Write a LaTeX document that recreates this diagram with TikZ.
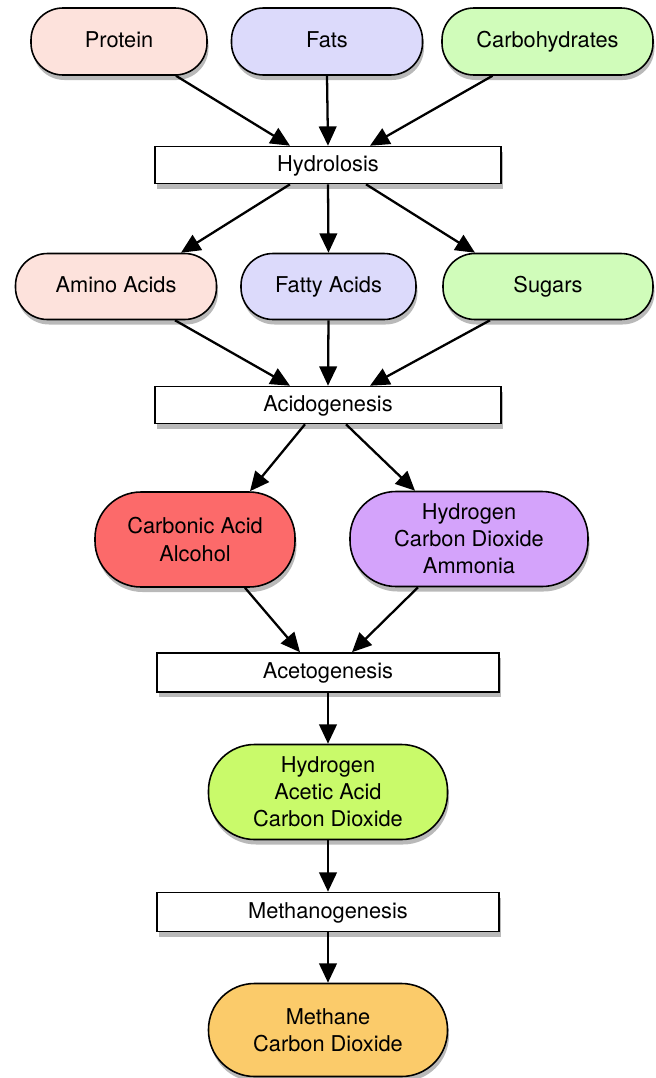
\documentclass[tikz,border=0pt]{standalone}
\usepackage{fontspec}
\setmainfont{TeX Gyre Heros}
\usepackage{tikz}
\usetikzlibrary{arrows.meta,shadows}
\definecolor{proteinpink}{HTML}{FDE2DC}
\definecolor{fatblue}{HTML}{DCDAFB}
\definecolor{sugargreen}{HTML}{D0FCBA}
\definecolor{acidred}{HTML}{FC6A6A}
\definecolor{gaspurple}{HTML}{D4A3FB}
\definecolor{acetlime}{HTML}{C9FA6A}
\definecolor{methorange}{HTML}{FBCB6A}
\tikzset{
  pill/.style={draw,line width=0.9pt,rounded corners=0.64cm,minimum height=1.34cm,
    align=center,drop shadow={shadow xshift=0.03cm,shadow yshift=-0.1cm,opacity=0.55}},
  onepill/.style={pill,text height=1.45ex,text depth=0.1ex},
  tallpill/.style={pill,rounded corners=0.92cm,minimum height=1.9cm},
  stage/.style={draw,line width=0.9pt,fill=white,minimum height=0.74cm,minimum width=6.92cm,
    text height=1.45ex,text depth=0.1ex,
    drop shadow={shadow xshift=0.03cm,shadow yshift=-0.1cm,opacity=0.55}},
  flow/.style={->,line width=1.3pt}
}
\begin{document}
\begin{tikzpicture}[>={Triangle[length=11pt,width=10pt]},font=\fontsize{12.4}{15.4}\selectfont]
  \useasboundingbox (0,0) rectangle (13.1,-21.56);
  % feedstock
  \node[onepill,fill=proteinpink,minimum width=3.52cm] (protein) at (2.38,-0.83) {Protein};
  \node[onepill,fill=fatblue,minimum width=3.82cm] (fats) at (6.54,-0.83) {Fats};
  \node[onepill,fill=sugargreen,minimum width=4.22cm] (carbs) at (10.95,-0.83) {Carbohydrates};
  \node[stage] (hydro) at (6.56,-3.3) {Hydrolosis};
  \node[onepill,fill=proteinpink,minimum width=4.02cm,minimum height=1.32cm] (amino) at (2.32,-5.73) {Amino Acids};
  \node[onepill,fill=fatblue,minimum width=3.5cm,minimum height=1.32cm] (fatty) at (6.57,-5.73) {Fatty Acids};
  \node[onepill,fill=sugargreen,minimum width=4.2cm,minimum height=1.32cm] (sugars) at (10.96,-5.73) {Sugars};
  \node[stage] (acido) at (6.56,-8.1) {Acidogenesis};
  \node[tallpill,fill=acidred,minimum width=4.0cm] (carbonic) at (3.9,-10.79) {Carbonic Acid\\Alcohol};
  \node[tallpill,fill=gaspurple,minimum width=4.76cm] (gases) at (9.38,-10.78) {Hydrogen\\Carbon Dioxide\\Ammonia};
  \node[stage,minimum width=6.84cm,minimum height=0.78cm] (aceto) at (6.56,-13.45) {Acetogenesis};
  \node[tallpill,fill=acetlime,minimum width=4.78cm] (acetic) at (6.56,-15.84) {Hydrogen\\Acetic Acid\\Carbon Dioxide};
  \node[stage,minimum width=6.84cm,minimum height=0.78cm] (methano) at (6.56,-18.24) {Methanogenesis};
  \node[tallpill,fill=methorange,minimum width=4.78cm,minimum height=1.86cm] (methane) at (6.56,-20.6) {Methane\\Carbon Dioxide};
  % arrows between stages
  \draw[flow] ([xshift=1.14cm]protein.south) -- ([xshift=-0.76cm]hydro.north);
  \draw[flow] (fats.south) -- (hydro.north);
  \draw[flow] ([xshift=-1.1cm]carbs.south) -- ([xshift=0.84cm]hydro.north);
  \draw[flow] ([xshift=-0.76cm]hydro.south) -- ([xshift=1.3cm]amino.north);
  \draw[flow] (hydro.south) -- (fatty.north);
  \draw[flow] ([xshift=0.76cm]hydro.south) -- ([xshift=-1.46cm]sugars.north);
  \draw[flow] ([xshift=1.18cm]amino.south) -- ([xshift=-0.76cm]acido.north);
  \draw[flow] (fatty.south) -- (acido.north);
  \draw[flow] ([xshift=-1.16cm]sugars.south) -- ([xshift=0.84cm]acido.north);
  \draw[flow] ([xshift=-0.46cm]acido.south) -- ([xshift=1.1cm]carbonic.north);
  \draw[flow] ([xshift=0.36cm]acido.south) -- ([xshift=-1.08cm]gases.north);
  \draw[flow] ([xshift=1.0cm]carbonic.south) -- ([xshift=-0.56cm]aceto.north);
  \draw[flow] ([xshift=-1.02cm]gases.south) -- ([xshift=0.48cm]aceto.north);
  \draw[flow] (aceto) -- (acetic);
  \draw[flow] (acetic) -- (methano);
  \draw[flow] (methano) -- (methane);
\end{tikzpicture}
\end{document}
